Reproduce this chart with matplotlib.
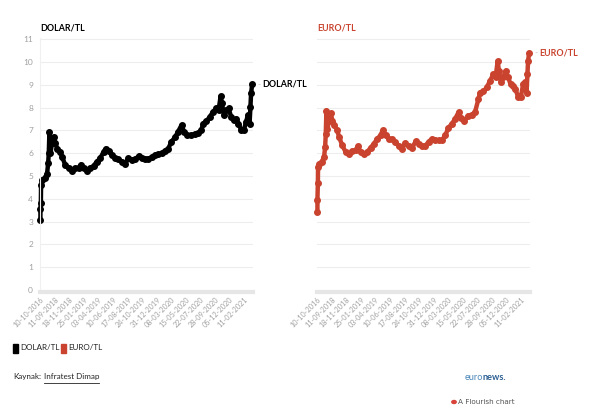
import matplotlib; matplotlib.use('Agg')
import matplotlib.pyplot as plt
from matplotlib.lines import Line2D
from matplotlib.patches import Rectangle, Circle
from matplotlib.text import Annotation

plt.rcParams['font.family'] = ['Lato', 'DejaVu Sans']

BLACK = "#000000"
RED = "#c9432f"
GREY = "#a0a0a0"

# category index of each plotted point (the x axis is categorical, one slot per day of data)
day_idx = [0, 0, 2, 3, 8, 20, 31, 36, 39, 42, 47, 54, 62, 70, 78, 93, 101, 116, 132, 147,
           163, 178, 189, 202, 217, 233, 248, 264, 279, 295, 305, 318, 333, 349, 364, 380,
           395, 411, 426, 442, 460, 473, 488, 504, 519, 535, 550, 566, 581, 597, 612, 628,
           643, 659, 671, 687, 705, 721, 736, 752, 760, 775, 791, 806, 822, 832, 842, 848,
           857, 868, 879, 891, 902, 915, 925, 938, 950, 961, 969, 977, 981, 984, 989]

dolar = [3.08, 3.55, 3.83, 4.60, 4.83, 4.90, 5.10, 5.55, 6.00, 6.94, 6.00, 6.43, 6.72, 6.43,
         6.20, 6.06, 5.85, 5.48, 5.34, 5.22, 5.34, 5.36, 5.50, 5.34, 5.23, 5.34, 5.44, 5.63,
         5.77, 6.06, 6.20, 6.10, 5.92, 5.77, 5.73, 5.63, 5.52, 5.77, 5.70, 5.73, 5.88, 5.77,
         5.74, 5.76, 5.82, 5.92, 5.95, 5.99, 6.09, 6.20, 6.50, 6.69, 6.94, 7.23, 6.94, 6.79,
         6.79, 6.84, 6.87, 7.01, 7.30, 7.40, 7.59, 7.81, 7.96, 7.89, 8.50, 8.18, 7.67, 7.89,
         7.96, 7.59, 7.45, 7.52, 7.30, 7.01, 7.01, 7.38, 7.67, 7.30, 8.03, 8.62, 9.02]

euro = [3.41, 3.95, 4.67, 5.40, 5.54, 5.62, 5.83, 6.27, 6.85, 7.87, 7.07, 7.43, 7.75, 7.43,
        7.25, 7.00, 6.71, 6.34, 6.05, 5.98, 6.08, 6.12, 6.30, 6.05, 5.95, 6.05, 6.24, 6.41,
        6.63, 6.78, 7.00, 6.78, 6.63, 6.60, 6.49, 6.30, 6.20, 6.44, 6.30, 6.24, 6.53, 6.39,
        6.30, 6.33, 6.49, 6.63, 6.59, 6.56, 6.56, 6.78, 7.11, 7.29, 7.50, 7.79, 7.55, 7.43,
        7.65, 7.69, 7.79, 8.37, 8.66, 8.71, 8.88, 9.17, 9.46, 9.32, 10.04, 9.60, 9.10, 9.32,
        9.61, 9.32, 9.03, 8.96, 8.81, 8.45, 8.45, 9.03, 9.10, 8.66, 9.46, 10.04, 10.40]

tick_dates = ["10-10-2016", "11-09-2018", "18-11-2018", "25-01-2019", "03-04-2019",
              "10-06-2019", "17-08-2019", "24-10-2019", "31-12-2019", "08-03-2020",
              "15-05-2020", "22-07-2020", "28-09-2020", "05-12-2020", "11-02-2021"]
tick_pos = [i * 68 for i in range(len(tick_dates))]

W, H = 600, 412
fig = plt.figure(figsize=(W / 100, H / 100), dpi=100)


def px_axes(x0, y0, x1, y1):
    return fig.add_axes([x0 / W, 1 - y1 / H, (x1 - x0) / W, (y1 - y0) / H])


def fy(y):
    return 1 - y / H


def after(artist, text, dx=2, **kw):
    # put a text right after another one
    a = Annotation(text, xy=(1, 0.5), xycoords=artist, xytext=(dx, 0),
                   textcoords='offset pixels', va='center', ha='left', **kw)
    fig.add_artist(a)
    return a


def style(ax, show_y):
    ax.set_xlim(-2, 993)
    ax.set_ylim(0, 11.05)
    ax.set_yticks(range(0, 12))
    ax.grid(axis='y', color='#ededed', lw=0.8)
    ax.set_axisbelow(True)
    for s in ['top', 'right']:
        ax.spines[s].set_visible(False)
    ax.spines['left'].set_color('#f0f0f0' if show_y else 'none')
    ax.spines['bottom'].set_color('#e6e6e6')
    ax.spines['bottom'].set_linewidth(3)
    ax.spines['bottom'].set_position(('outward', 1.5))
    ax.tick_params(axis='y', length=0, pad=5, labelsize=6, labelcolor=GREY)
    if not show_y:
        ax.set_yticklabels([])
    ax.set_xticks(tick_pos)
    ax.set_xticklabels(tick_dates, rotation=45, ha='right', rotation_mode='anchor',
                       fontsize=5.2, color=GREY)
    ax.tick_params(axis='x', length=0, pad=3)


ax1 = px_axes(40, 38, 253, 290)
ax2 = px_axes(317, 38, 530, 290)
style(ax1, True)
style(ax2, False)

for ax, vals, col, name in [(ax1, dolar, BLACK, "DOLAR/TL"), (ax2, euro, RED, "EURO/TL")]:
    ax.plot(day_idx, vals, color=col, lw=3.2, marker='o', ms=4,
            solid_joinstyle='round', solid_capstyle='round', clip_on=False)
    ax.annotate("-", xy=(day_idx[-1], vals[-1]), xytext=(5, 0), textcoords='offset pixels',
                va='center', ha='left', fontsize=6, color='#bbbbbb')
    ax.annotate(name, xy=(day_idx[-1], vals[-1]), xytext=(10, 0), textcoords='offset pixels',
                va='center', ha='left', fontsize=6.4, fontweight='bold', color=col)

fig.text(40 / W, fy(28), "DOLAR/TL", fontsize=6.4, fontweight='bold', color=BLACK, va='center')
fig.text(317 / W, fy(28), "EURO/TL", fontsize=6.4, fontweight='bold', color=RED, va='center')

# legend
fig.patches.append(Rectangle((13 / W, fy(352.5)), 5 / W, 9 / H,
                             transform=fig.transFigure, color=BLACK))
t = fig.text(20 / W, fy(348), "DOLAR/TL", fontsize=5.8, va='center', color='#222222')
fig.canvas.draw()
bb = t.get_window_extent()
fig.patches.append(Rectangle(((bb.x1 + 2) / W, fy(352.5)), 5 / W, 9 / H,
                             transform=fig.transFigure, color=RED))
fig.text((bb.x1 + 9) / W, fy(348), "EURO/TL", fontsize=5.8, va='center', color='#222222')

# source line
k = fig.text(13 / W, fy(377), "Kaynak:", fontsize=5.8, va='center', color='#222222')
src = after(k, "Infratest Dimap", dx=2.5, fontsize=5.8, color='#222222')
fig.canvas.draw()
sb = src.get_window_extent()
fig.add_artist(Line2D([sb.x0 / W, sb.x1 / W], [fy(382.5), fy(382.5)], color='#222222', lw=0.6))

e = fig.text(465 / W, fy(377), "euro", fontsize=6.6, va='center', color='#4a86b8')
after(e, "news.", dx=-1, fontsize=6.6, fontweight='bold', color='#2c5f93')

fig.patches.append(Circle((454 / W, fy(402)), 2.2 / W, transform=fig.transFigure,
                          color='#d9443a'))
fig.text(458 / W, fy(402), "A Flourish chart", fontsize=5.2, va='center', color='#555555',
         family=['DejaVu Sans'])

fig.savefig("out.png", dpi=100)
